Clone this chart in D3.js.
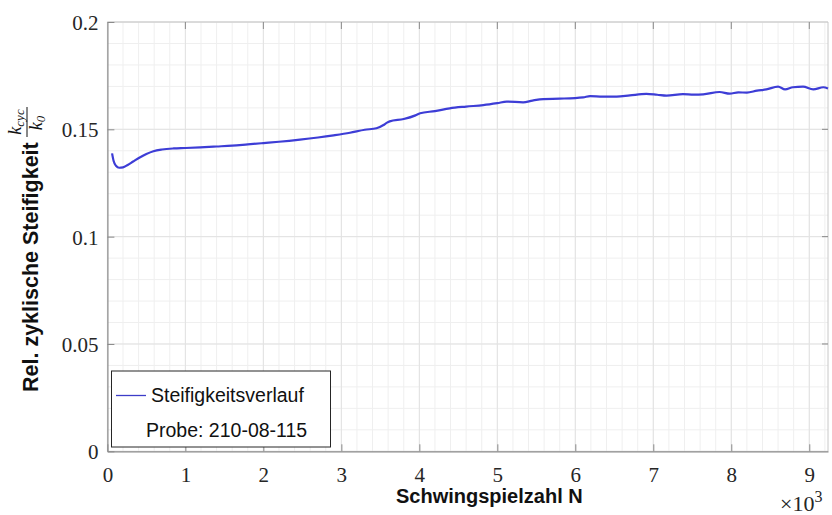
<!DOCTYPE html>
<html>
<head>
<meta charset="utf-8">
<script src="https://cdn.jsdelivr.net/npm/d3@7/dist/d3.min.js"></script>
<style>
  html, body { margin: 0; padding: 0; background: #fff; }
  svg { display: block; }
</style>
</head>
<body>
<svg id="chart" width="832" height="515"></svg>
<script>
// Stiffness history: load cycles N and relative cyclic stiffness k_cyc / k_0
const cycles = [60, 80, 110, 150, 200, 260, 330, 420, 500, 590, 700, 850, 1000, 1190, 1400, 1600,
  1800, 2000, 2200, 2470, 2700, 2900, 3110, 3300, 3450, 3540, 3580, 3620, 3800, 3950, 4010, 4200,
  4390, 4600, 4820, 5000, 5120, 5330, 5450, 5590, 5800, 6100, 6190, 6350, 6530, 6700, 6910, 7050,
  7170, 7380, 7520, 7640, 7850, 7980, 8090, 8200, 8330, 8450, 8600, 8690, 8790, 8920, 9050, 9180, 9240];
const stiffness = [0.1388, 0.1352, 0.1330, 0.1321, 0.1323, 0.1334, 0.1350, 0.1370, 0.1385, 0.1398,
  0.1406, 0.1411, 0.1413, 0.1416, 0.1420, 0.1424, 0.1430, 0.1436, 0.1442, 0.1452, 0.1462, 0.1472,
  0.1484, 0.1498, 0.1505, 0.1520, 0.1530, 0.1537, 0.1548, 0.1565, 0.1575, 0.1585, 0.1598, 0.1606,
  0.1613, 0.1622, 0.1629, 0.1626, 0.1634, 0.1641, 0.1643, 0.1649, 0.1655, 0.1652, 0.1652, 0.1658,
  0.1665, 0.1661, 0.1657, 0.1664, 0.1662, 0.1663, 0.1674, 0.1666, 0.1672, 0.1671, 0.1680, 0.1686,
  0.1699, 0.1686, 0.1696, 0.1699, 0.1686, 0.1696, 0.1690];

const xTicks = [0, 1000, 2000, 3000, 4000, 5000, 6000, 7000, 8000, 9000];
const xTickLabels = ["0", "1", "2", "3", "4", "5", "6", "7", "8", "9"];
const yTicks = [0, 0.05, 0.1, 0.15, 0.2];
const yTickLabels = ["0", "0.05", "0.1", "0.15", "0.2"];
const seriesName = "Steifigkeitsverlauf";
const sampleName = "Probe: 210-08-115";

const svg = d3.select("#chart");
const plotL = 107.4, plotR = 828, plotT = 22, plotB = 451.3;

const x = d3.scaleLinear().domain([0, 9240]).range([plotL, plotR]);
const y = d3.scaleLinear().domain([0, 0.2]).range([plotB, plotT]);

const serif = "'Liberation Serif', 'Times New Roman', serif";
const sans = "'Liberation Sans', Arial, sans-serif";

// Minor grid (every 200 cycles / every 0.01)
const g = svg.append("g");
const minorX = d3.range(0, 9240, 200);
const minorY = d3.range(0, 0.2001, 0.01);
g.selectAll("line.mx").data(minorX).join("line")
  .attr("x1", d => x(d)).attr("x2", d => x(d)).attr("y1", plotT).attr("y2", plotB)
  .attr("stroke", "#efefef").attr("stroke-width", 1);
g.selectAll("line.my").data(minorY).join("line")
  .attr("x1", plotL).attr("x2", plotR).attr("y1", d => y(d)).attr("y2", d => y(d))
  .attr("stroke", "#efefef").attr("stroke-width", 1);
// Major grid
g.selectAll("line.Mx").data(xTicks).join("line")
  .attr("x1", d => x(d)).attr("x2", d => x(d)).attr("y1", plotT).attr("y2", plotB)
  .attr("stroke", "#e2e2e2").attr("stroke-width", 1);
g.selectAll("line.My").data(yTicks).join("line")
  .attr("x1", plotL).attr("x2", plotR).attr("y1", d => y(d)).attr("y2", d => y(d))
  .attr("stroke", "#e2e2e2").attr("stroke-width", 1);

// Box: top and right edges lighter
svg.append("line").attr("x1", plotL).attr("x2", plotR).attr("y1", plotT).attr("y2", plotT)
  .attr("stroke", "#c8c8c8");
svg.append("line").attr("x1", plotR).attr("x2", plotR).attr("y1", plotT).attr("y2", plotB)
  .attr("stroke", "#c8c8c8");

// Axes
const fmtX = (d, i) => xTickLabels[i];
const fmtY = (d, i) => yTickLabels[i];
const xAxis = svg.append("g").attr("transform", `translate(0,${plotB})`)
  .call(d3.axisBottom(x).tickValues(xTicks).tickFormat(fmtX).tickSizeInner(-7).tickSizeOuter(0).tickPadding(16));
const yAxis = svg.append("g").attr("transform", `translate(${plotL},0)`)
  .call(d3.axisLeft(y).tickValues(yTicks).tickFormat(fmtY).tickSizeInner(-7).tickSizeOuter(0).tickPadding(9));
[xAxis, yAxis].forEach(a => {
  a.select(".domain").attr("stroke", "#8a8a8a").attr("stroke-width", 1.2);
  a.selectAll(".tick line").attr("stroke", "#8a8a8a");
  a.selectAll(".tick text").attr("fill", "#262626").style("font-family", serif).style("font-size", "21px");
});
yAxis.selectAll(".tick text").attr("dy", "0.35em");

// Ticks mirrored on top and right edges
svg.append("g").selectAll("line").data(xTicks.slice(1)).join("line")
  .attr("x1", d => x(d)).attr("x2", d => x(d)).attr("y1", plotT).attr("y2", plotT + 7)
  .attr("stroke", "#8a8a8a");
svg.append("g").selectAll("line").data(yTicks.slice(1, -1)).join("line")
  .attr("x1", plotR - 6).attr("x2", plotR).attr("y1", d => y(d)).attr("y2", d => y(d))
  .attr("stroke", "#8a8a8a");

// Data line
const data = cycles.map((c, i) => [c, stiffness[i]]);
svg.append("path").datum(data)
  .attr("fill", "none").attr("stroke", "#3d3dd6").attr("stroke-width", 2.2)
  .attr("stroke-linejoin", "round")
  .attr("d", d3.line().x(d => x(d[0])).y(d => y(d[1])).curve(d3.curveMonotoneX));

// Legend
const lg = svg.append("g");
lg.append("rect").attr("x", 111.5).attr("y", 371).attr("width", 219).attr("height", 76)
  .attr("fill", "#fff").attr("stroke", "#262626").attr("stroke-width", 1);
lg.append("line").attr("x1", 116).attr("x2", 146).attr("y1", 395.5).attr("y2", 395.5)
  .attr("stroke", "#3d3dc8").attr("stroke-width", 1.3);
lg.append("text").attr("x", 151).attr("y", 401.5).text(seriesName)
  .attr("fill", "#111").style("font-family", sans).style("font-size", "19.5px");
lg.append("text").attr("x", 146).attr("y", 437).text(sampleName)
  .attr("fill", "#111").style("font-family", sans).style("font-size", "19.5px");

// X-axis title and exponent
svg.append("text").attr("x", 396).attr("y", 503)
  .text("Schwingspielzahl N").attr("fill", "#111")
  .style("font-family", sans).style("font-size", "20px").style("font-weight", "bold");
const exp = svg.append("text").attr("x", 780).attr("y", 511).attr("fill", "#262626")
  .style("font-family", serif).style("font-size", "22px");
exp.append("tspan").text("×10");
exp.append("tspan").attr("dy", -9).style("font-size", "16px").text("3");

// Y-axis title with fraction k_cyc / k_0
const yt = svg.append("g").attr("transform", "rotate(-90)");
yt.append("text").attr("x", -392).attr("y", 38).text("Rel. zyklische Steifigkeit")
  .attr("fill", "#111").style("font-family", sans).style("font-size", "21.5px").style("font-weight", "bold");
const num = yt.append("text").attr("x", -122).attr("y", 21).attr("text-anchor", "middle")
  .attr("fill", "#111").style("font-family", serif).style("font-style", "italic").style("font-size", "18px");
num.append("tspan").text("k");
num.append("tspan").attr("dy", 3).style("font-size", "13px").text("cyc");
yt.append("line").attr("x1", -137).attr("x2", -107).attr("y1", 27).attr("y2", 27)
  .attr("stroke", "#111").attr("stroke-width", 1);
const den = yt.append("text").attr("x", -123).attr("y", 42).attr("text-anchor", "middle")
  .attr("fill", "#111").style("font-family", serif).style("font-style", "italic").style("font-size", "18px");
den.append("tspan").text("k");
den.append("tspan").attr("dy", 3).style("font-size", "13px").text("0");
</script>
</body>
</html>
